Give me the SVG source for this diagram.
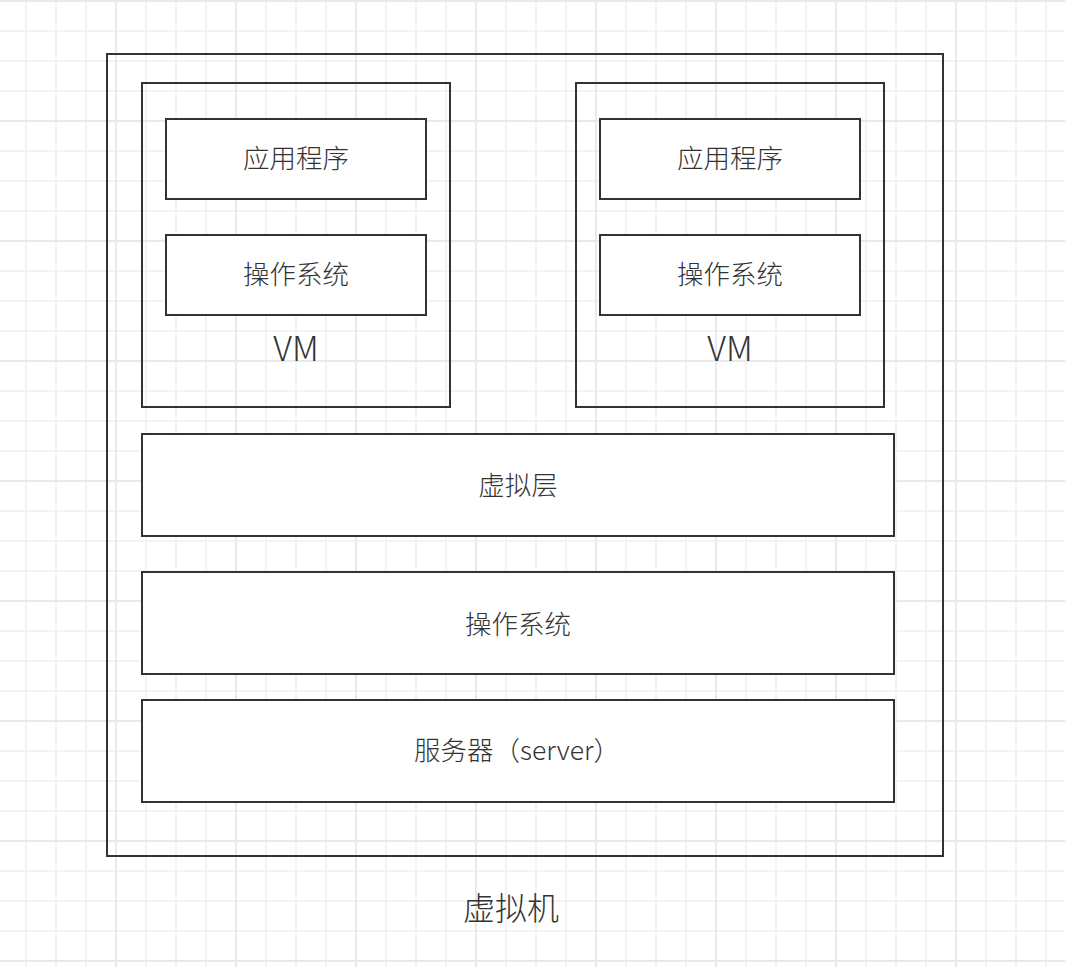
<svg xmlns="http://www.w3.org/2000/svg" width="1065" height="967" viewBox="0 0 1065 967">
<style>
.box{fill:#ffffff;stroke:#333333;stroke-width:2}
.frame{fill:none;stroke:#333333;stroke-width:2}
.t{font-family:"Noto Sans CJK SC","Noto Sans",sans-serif;font-weight:300;fill:#333333;text-anchor:middle;font-size:26.5px}
.big{font-size:32px}
.vm{font-size:34px}
</style>
<defs>
<pattern id="grid" x="-5" y="0" width="120" height="120" patternUnits="userSpaceOnUse">
<g fill="#f3f3f3">
<rect x="30" y="0" width="2" height="120"/>
<rect x="60" y="0" width="2" height="120"/>
<rect x="90" y="0" width="2" height="120"/>
<rect x="0" y="30" width="120" height="2"/>
<rect x="0" y="60" width="120" height="2"/>
<rect x="0" y="90" width="120" height="2"/>
</g>
<g fill="#e9e9e9">
<rect x="0" y="0" width="2" height="120"/>
<rect x="0" y="0" width="120" height="2"/>
</g>
</pattern>
</defs>
<rect x="0" y="0" width="1065" height="967" fill="#ffffff"/>
<rect x="0" y="0" width="1065" height="967" fill="url(#grid)"/>
<g id="host">
<rect class="frame" x="107" y="54" width="836" height="802"/>
<text class="t big" x="511" y="920">虚拟机</text>
</g>
<g id="vm1">
<rect class="frame" x="142" y="83" width="308" height="324"/>
<text class="t vm" x="296" y="361">VM</text>
</g>
<g id="vm1-app">
<rect class="box" x="166" y="119" width="260" height="80"/>
<text class="t" x="296" y="168">应用程序</text>
</g>
<g id="vm1-os">
<rect class="box" x="166" y="235" width="260" height="80"/>
<text class="t" x="296" y="284">操作系统</text>
</g>
<g id="vm2">
<rect class="frame" x="576" y="83" width="308" height="324"/>
<text class="t vm" x="730" y="361">VM</text>
</g>
<g id="vm2-app">
<rect class="box" x="600" y="119" width="260" height="80"/>
<text class="t" x="730" y="168">应用程序</text>
</g>
<g id="vm2-os">
<rect class="box" x="600" y="235" width="260" height="80"/>
<text class="t" x="730" y="284">操作系统</text>
</g>
<g id="hypervisor">
<rect class="box" x="142" y="434" width="752" height="102"/>
<text class="t" x="518" y="495">虚拟层</text>
</g>
<g id="host-os">
<rect class="box" x="142" y="572" width="752" height="102"/>
<text class="t" x="518" y="634">操作系统</text>
</g>
<g id="server">
<rect class="box" x="142" y="700" width="752" height="102"/>
<text class="t" x="517" y="760">服务器（server）</text>
</g>
<g id="connectors"/>
</svg>
